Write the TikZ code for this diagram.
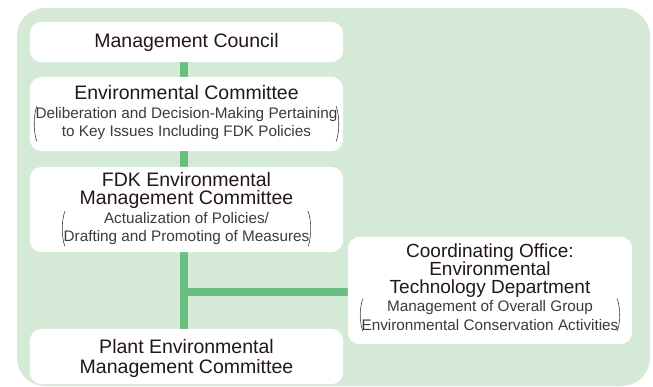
\documentclass[tikz,border=0pt]{standalone}
\usepackage{fontspec}
\setmainfont{Liberation Sans}
\begin{document}
\definecolor{panel}{HTML}{D5EAD6}
\definecolor{link}{HTML}{6ABD80}
\definecolor{ink}{HTML}{231815}
\definecolor{subink}{HTML}{3E3A39}
\begin{tikzpicture}[x=1pt,y=-1pt,
  box/.style={draw=none,fill=white,rounded corners=12pt},
  title/.style={text=ink,align=center,inner sep=0pt,anchor=base,
    font=\fontsize{19.5}{18}\selectfont},
  note/.style={text=subink,align=center,inner sep=1pt,anchor=base,
    font=\fontsize{15.3}{18.5}\selectfont},
  paren/.style={draw=subink,line width=0.6pt},
  link/.style={draw=link,line width=8pt}]
\useasboundingbox (0,0) rectangle (653,387);
% green panel
\fill[panel,rounded corners=28pt] (17,8) rectangle (650,386);

% box frames (named so the connectors can reach them)
\node[inner sep=0,minimum width=313,minimum height=40] (mc) at (186.5,42) {};
\node[inner sep=0,minimum width=313,minimum height=74] (ec) at (186.5,114) {};
\node[inner sep=0,minimum width=313,minimum height=85] (fdk) at (186.5,209.5) {};
\node[inner sep=0,minimum width=313,minimum height=55] (plant) at (186.5,356.5) {};
\node[inner sep=0,minimum width=284,minimum height=107] (coord) at (490,290.5) {};

% connectors
\coordinate (spine) at (184,0);
\coordinate (junction) at (184,292);
\draw[link] (mc.south -| spine) -- (plant.north -| spine);
\draw[link] (junction) -- (coord.west |- junction);

% white boxes drawn over the connectors
\foreach \n in {mc,ec,fdk,plant,coord}
  \path[box] (\n.north west) rectangle (\n.south east);

% texts (anchored at the baseline of their last line)
\node[title] (mct) at (186.5,48) {Management Council};

\node[title] (ect) at (186.5,100) {Environmental Committee};
\node[note] (ecs) at (186.5,137) {Deliberation and Decision-Making Pertaining\\to Key Issues Including FDK Policies};

\node[title] (fdkt) at (186.5,205) {FDK Environmental\\Management Committee};
\node[note] (fdks) at (186.5,242) {Actualization of Policies/\\Drafting and Promoting of Measures};

\node[title,font=\fontsize{19.5}{20}\selectfont] (plantt) at (186.5,373) {Plant Environmental\\Management Committee};

\node[title,font=\fontsize{19}{18}\selectfont] (coordt) at (490,294) {Coordinating Office:\\Environmental\\Technology Department};
\node[note,font=\fontsize{15.3}{19}\selectfont] (coords) at (490,330) {Management of Overall Group\\Environmental Conservation Activities};

% parentheses around the notes
\foreach \n in {ecs,fdks,coords}{
  \draw[paren] ([xshift=2.5pt]\n.north west) .. controls ([xshift=-1pt,yshift=-9pt]\n.north west) and ([xshift=-1pt,yshift=9pt]\n.south west) .. ([xshift=2.5pt]\n.south west);
  \draw[paren] ([xshift=-2.5pt]\n.north east) .. controls ([xshift=1pt,yshift=-9pt]\n.north east) and ([xshift=1pt,yshift=9pt]\n.south east) .. ([xshift=-2.5pt]\n.south east);
}
\end{tikzpicture}
\end{document}
